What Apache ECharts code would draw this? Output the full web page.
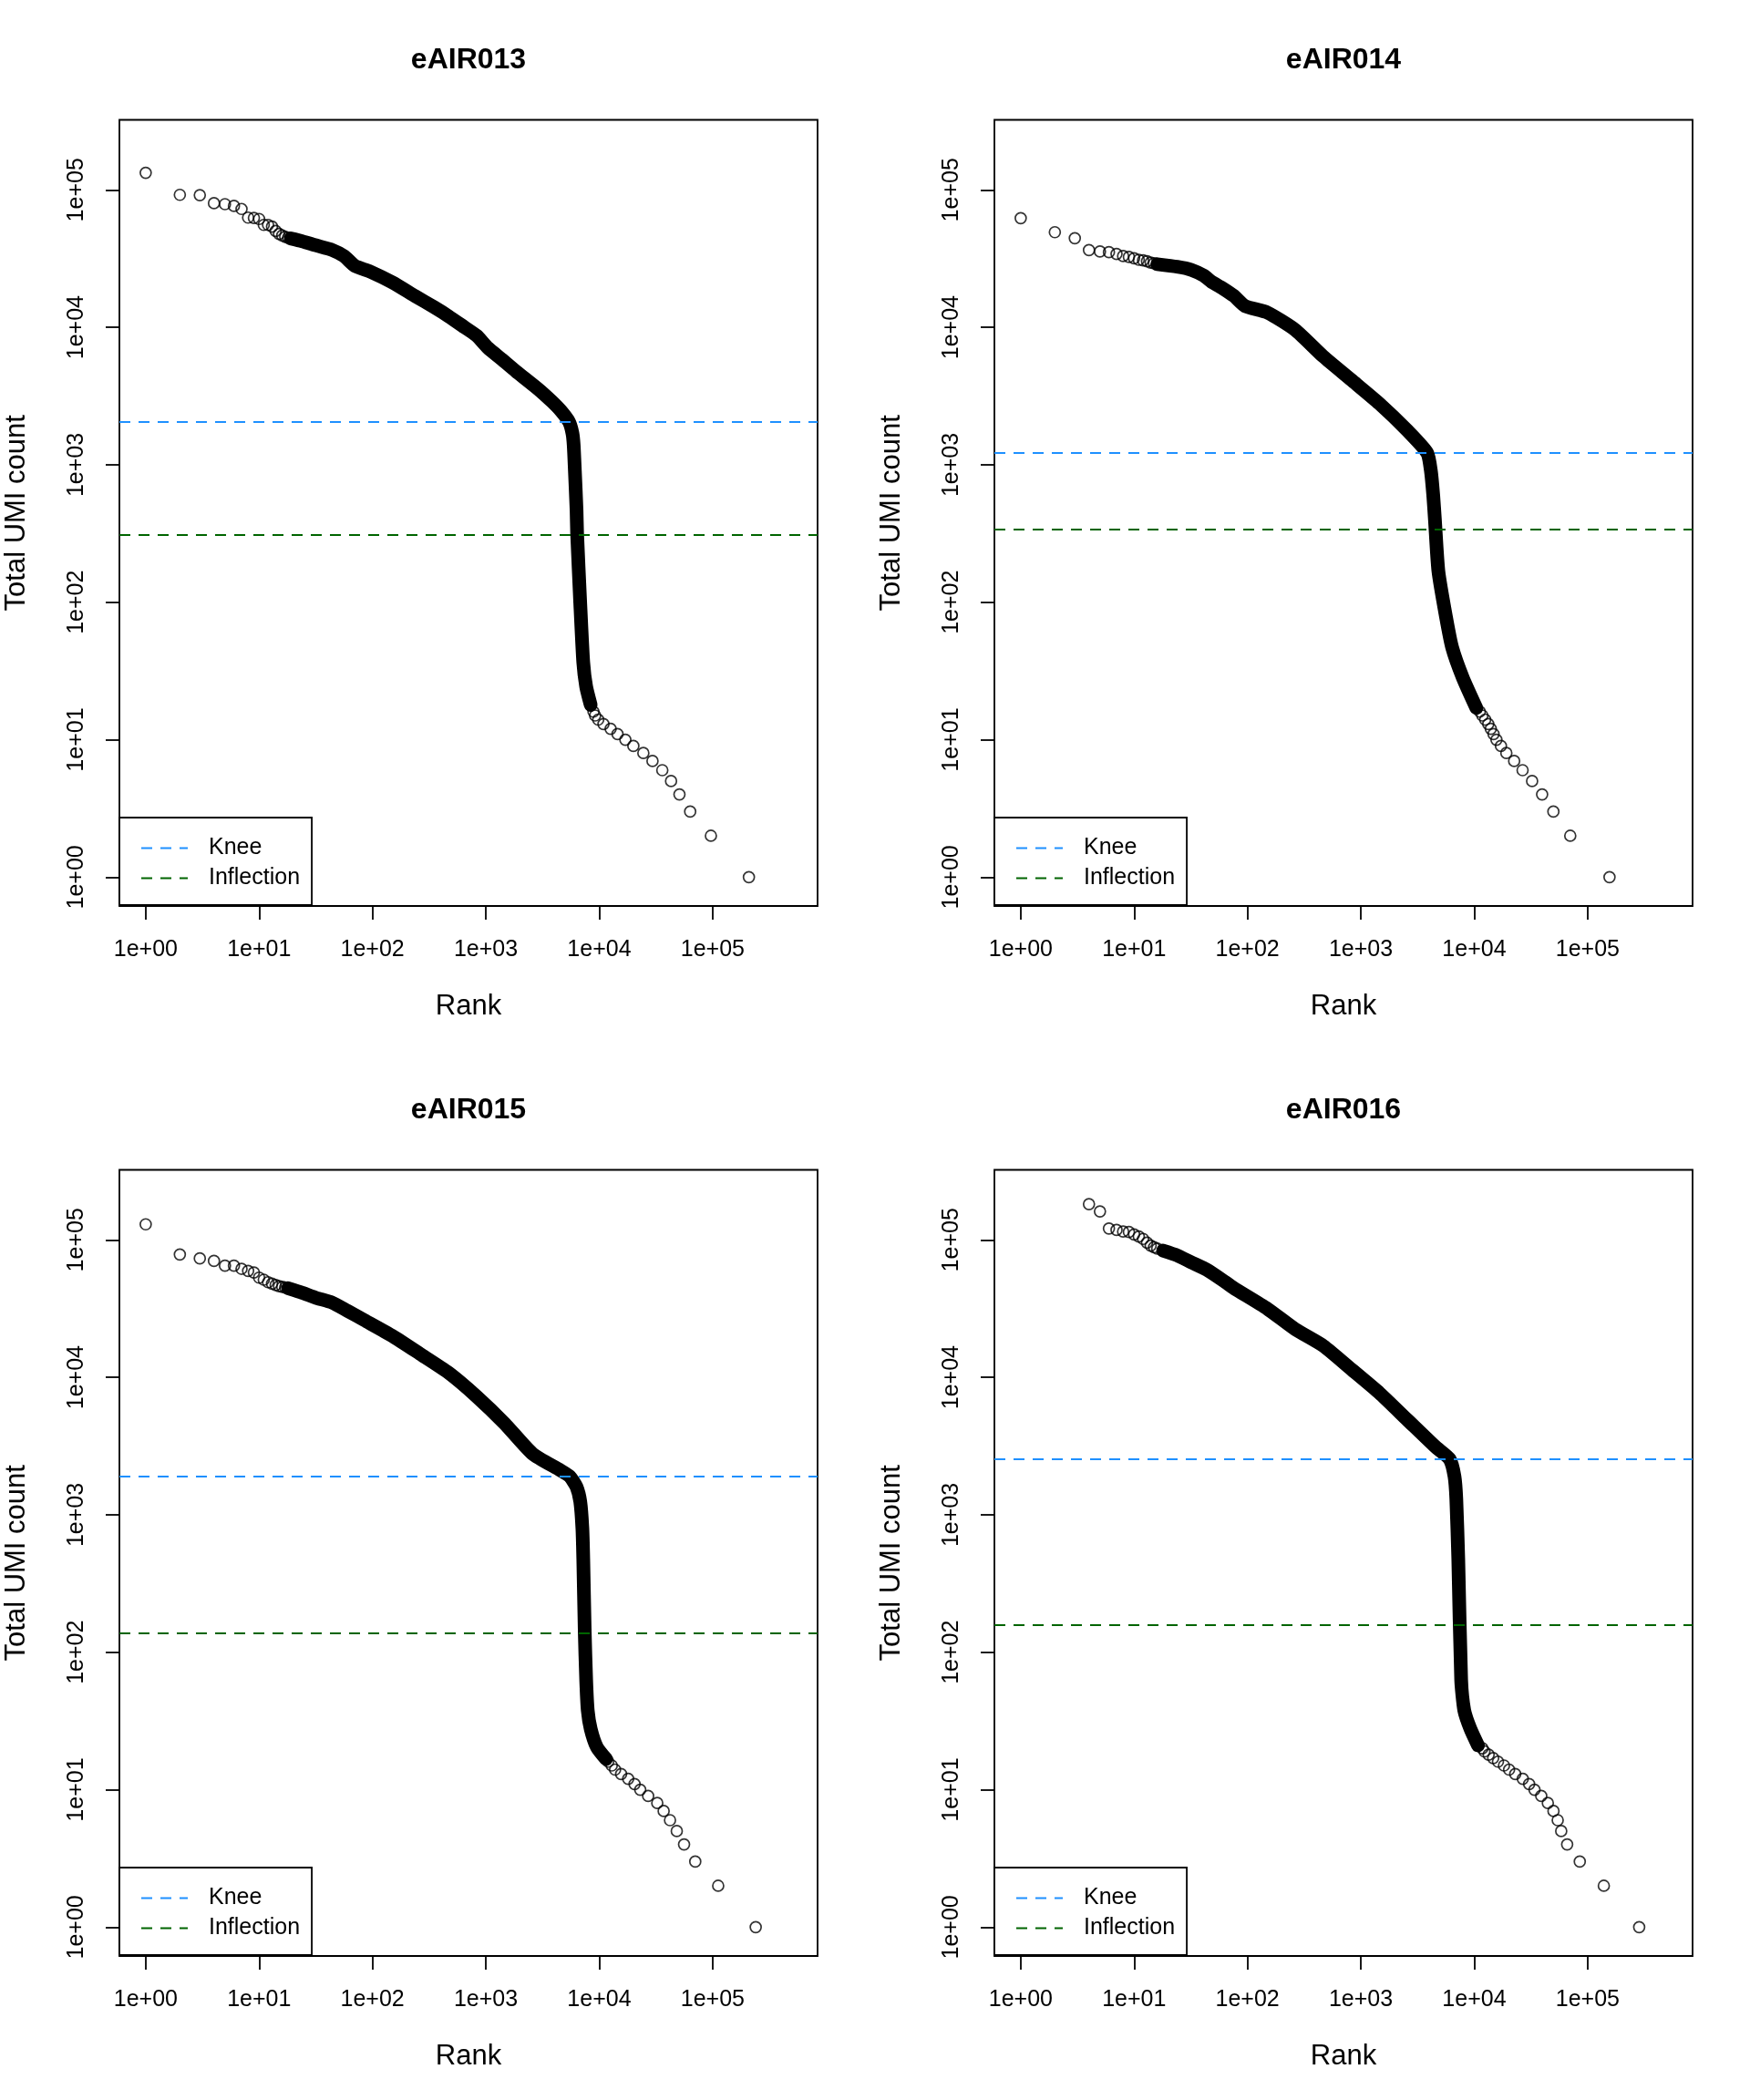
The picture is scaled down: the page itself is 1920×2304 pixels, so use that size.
<!DOCTYPE html>
<html>
<head>
<meta charset="utf-8">
<script src="https://cdn.jsdelivr.net/npm/echarts@6/dist/echarts.min.js"></script>
<style>
html,body{margin:0;padding:0;background:#ffffff;}
#chart{width:1920px;height:2304px;}
</style>
</head>
<body>
<div id="chart"></div>
<script>
// ---------- data (rank, total UMI count) ----------
const panelTitles = ['eAIR013', 'eAIR014', 'eAIR015', 'eAIR016'];
const xTickValues = [1, 10, 100, 1000, 10000, 100000];
const yTickValues = [1, 10, 100, 1000, 10000, 100000];
const kneeValues = [2050, 1220, 1890, 2540];
const inflectionValues = [310, 340, 138, 157];
const legendNames = ['Knee', 'Inflection'];

const head013 = [[1,133000],[2,92000],[3,91500],[4,80000],[5,78700],[6,76400],[7,72600],[8,62800],[9,62500],[10,61400],[11,55600],[12,55600],[13,54000],[14,50300],[15,47800],[16,46500],[17,45500],[18,44800],[19,44300],[20,43800]];
const band013 = [[19,44300],[24,42300],[32,39400],[44,36600],[56,33000],[70,28000],[95,25500],[150,21200],[237,16900],[350,14000],[468,12050],[650,10000],[828,8700],[1040,7100],[1400,5800],[1837,4800],[2900,3550],[3800,2900],[4570,2480],[5420,2050],[5800,1700],[5950,1400],[6100,900],[6310,466],[6380,318],[6790,101],[7230,36.5],[7670,24.3],[8410,17.9]];
const tail013 = [[8900,16],[9200,15],[9800,14],[10900,13],[12600,12],[14500,11],[17000,10],[20000,9],[24500,8],[29500,7],[36000,6],[43000,5],[51000,4],[63400,3],[96600,2],[209000,1]];

const head014 = [[1,62300],[2,49200],[3,44500],[4,36500],[5,35600],[6,35200],[7,34200],[8,33000],[9,32500],[10,31800],[11,31000],[12,30700],[13,30200],[14,29600],[15,29200],[16,28800]];
const band014 = [[16,28800],[24,27600],[32,26200],[41,23800],[48,21500],[60,19300],[76,16900],[95,14300],[150,12800],[263,9600],[468,6120],[828,4130],[1462,2780],[2580,1770],[3850,1220],[4150,900],[4350,600],[4500,400],[4830,168],[5640,78],[6380,47],[7920,28.3],[10450,17]];
const tail014 = [[11200,16],[11800,15],[12500,14],[13300,13],[14000,12],[14800,11],[15700,10],[17200,9],[19200,8],[22500,7],[26700,6],[32400,5],[39700,4],[49900,3],[70300,2],[156000,1]];

const head015 = [[1,129700],[2,78300],[3,73300],[4,70300],[5,64800],[6,64800],[7,61600],[8,59500],[9,57900],[10,53100],[11,51300],[12,49200],[13,48000],[14,46900],[15,46000],[16,45500],[17,45000],[18,44500]];
const band015 = [[18,44500],[24,41200],[32,37800],[44,35000],[60,30500],[85,26000],[150,20000],[263,14800],[468,10800],[828,7260],[1462,4620],[2580,2780],[4570,2100],[5500,1900],[6300,1600],[6800,1250],[7100,800],[7230,481],[7450,141],[7670,62.7],[7920,37.7],[8410,27.7],[9530,20.4],[11500,16.7]];
const tail015 = [[12000,16],[12900,15],[13800,14],[15600,13],[18000,12],[20500,11],[23000,10],[27000,9],[32500,8],[37000,7],[42100,6],[48300,5],[56000,4],[70300,3],[112000,2],[240000,1]];

const head016 = [[4,182000],[5,161000],[6,121000],[7,118000],[8,115000],[9,114000],[10,109600],[11,105800],[12,101600],[13,95500],[14,90800],[15,88500],[16,86300],[18,83500],[20,81200]];
const band016 = [[18,83500],[24,77100],[32,68600],[44,60400],[64,49200],[76,44500],[150,31500],[263,22400],[468,16900],[828,11400],[1462,7670],[2580,4890],[4570,3110],[6070,2540],[6700,1900],[6950,1300],[7230,481],[7670,62.7],[8170,37.7],[9250,27.7],[10800,21]];
const tail016 = [[11800,20],[12300,19],[13400,18],[14700,17],[16200,16],[18300,15],[20300,14],[23000,13],[26800,12],[30500,11],[34000,10],[39000,9],[44600,8],[50000,7],[54500,6],[58500,5],[66000,4],[85300,3],[139000,2],[285000,1]];

const heads = [head013, head014, head015, head016];
const bands = [band013, band014, band015, band016];
const tails = [tail013, tail014, tail015, tail016];

// ---------- layout / style ----------
const FONT = '"Liberation Sans", Arial, Helvetica, sans-serif';
const CELL_W = 960, CELL_H = 1152;
const PL = 131, PT = 131.5, PW = 766, PH = 862.5;
const X_MIN = 0.586, X_MAX = 843000;
const Y_MIN = 0.617, Y_MAX = 323000;
const KNEE_COLOR = '#1E90FF';
const INFL_COLOR = '#006400';
const DASH = [12, 9];

function sciLabel(v) {
  const e = Math.round(Math.log10(v));
  return '1e+' + String(e).padStart(2, '0');
}

const titles = [], grids = [], xAxes = [], yAxes = [], legends = [], series = [];

for (let i = 0; i < 4; i++) {
  const cx = (i % 2) * CELL_W;
  const cy = Math.floor(i / 2) * CELL_H;

  titles.push({
    text: panelTitles[i],
    left: cx + PL + PW / 2,
    top: cy + 50,
    textAlign: 'center',
    padding: 0,
    textStyle: { fontSize: 32, fontWeight: 'bold', color: '#000', fontFamily: FONT }
  });

  grids.push({
    left: cx + PL, top: cy + PT, width: PW, height: PH,
    show: true, borderColor: '#000', borderWidth: 1.8, backgroundColor: 'transparent'
  });

  xAxes.push({
    gridIndex: i, type: 'log', logBase: 10, min: X_MIN, max: X_MAX,
    name: 'Rank', nameLocation: 'middle', nameGap: 95,
    nameTextStyle: { fontSize: 31, color: '#000', fontFamily: FONT },
    axisLine: { show: false },
    axisTick: { show: true, inside: false, length: 15, customValues: xTickValues,
      lineStyle: { color: '#000', width: 1.8 } },
    axisLabel: { show: true, customValues: xTickValues, formatter: sciLabel,
      fontSize: 25, color: '#000', fontFamily: FONT, margin: 36 },
    splitLine: { show: false }, minorTick: { show: false }
  });

  yAxes.push({
    gridIndex: i, type: 'log', logBase: 10, min: Y_MIN, max: Y_MAX,
    name: 'Total UMI count', nameLocation: 'middle', nameGap: 97, nameRotate: 90,
    nameTextStyle: { fontSize: 31, color: '#000', fontFamily: FONT },
    axisLine: { show: false },
    axisTick: { show: true, inside: false, length: 15, customValues: yTickValues,
      lineStyle: { color: '#000', width: 1.8 } },
    axisLabel: { show: true, customValues: yTickValues, formatter: sciLabel, rotate: 90,
      fontSize: 25, color: '#000', fontFamily: FONT, margin: 34 },
    splitLine: { show: false }, minorTick: { show: false }
  });

  legends.push({
    left: cx + PL, top: cy + 897, orient: 'vertical',
    data: legendNames, selectedMode: false,
    padding: [21, 13, 17, 23], itemGap: 8, itemWidth: 51, itemHeight: 14,
    borderColor: '#000', borderWidth: 1.8, borderRadius: 0, backgroundColor: '#fff',
    itemStyle: { opacity: 0 },
    textStyle: { fontSize: 25, color: '#000', fontFamily: FONT, padding: [0, 0, 0, 18] }
  });

  const circleStyle = { color: 'rgba(0,0,0,0)', borderColor: '#000', borderWidth: 1.7 };

  series.push({
    type: 'scatter', xAxisIndex: i, yAxisIndex: i, data: heads[i],
    symbol: 'circle', symbolSize: 12, itemStyle: circleStyle, silent: true, z: 3
  });
  series.push({
    type: 'line', xAxisIndex: i, yAxisIndex: i, data: bands[i],
    symbol: 'none', showSymbol: false, smooth: 0.2, silent: true, z: 3,
    lineStyle: { color: '#000', width: 15, cap: 'round', join: 'round' }
  });
  series.push({
    type: 'scatter', xAxisIndex: i, yAxisIndex: i, data: tails[i],
    symbol: 'circle', symbolSize: 12, itemStyle: circleStyle, silent: true, z: 3
  });
  series.push({
    name: 'Knee', type: 'line', xAxisIndex: i, yAxisIndex: i, data: [],
    symbol: 'none', showSymbol: false, z: 5, silent: true,
    lineStyle: { color: KNEE_COLOR, width: 2, type: DASH },
    itemStyle: { color: KNEE_COLOR },
    markLine: { symbol: ['none', 'none'], silent: true, animation: false,
      label: { show: false },
      lineStyle: { color: KNEE_COLOR, width: 2, type: DASH },
      data: [{ yAxis: kneeValues[i] }] }
  });
  series.push({
    name: 'Inflection', type: 'line', xAxisIndex: i, yAxisIndex: i, data: [],
    symbol: 'none', showSymbol: false, z: 5, silent: true,
    lineStyle: { color: INFL_COLOR, width: 2, type: DASH },
    itemStyle: { color: INFL_COLOR },
    markLine: { symbol: ['none', 'none'], silent: true, animation: false,
      label: { show: false },
      lineStyle: { color: INFL_COLOR, width: 2, type: DASH },
      data: [{ yAxis: inflectionValues[i] }] }
  });
}

const chart = echarts.init(document.getElementById('chart'), null, { renderer: 'canvas' });
chart.setOption({
  backgroundColor: '#ffffff',
  animation: false,
  title: titles,
  grid: grids,
  xAxis: xAxes,
  yAxis: yAxes,
  legend: legends,
  series: series
});
</script>
</body>
</html>
